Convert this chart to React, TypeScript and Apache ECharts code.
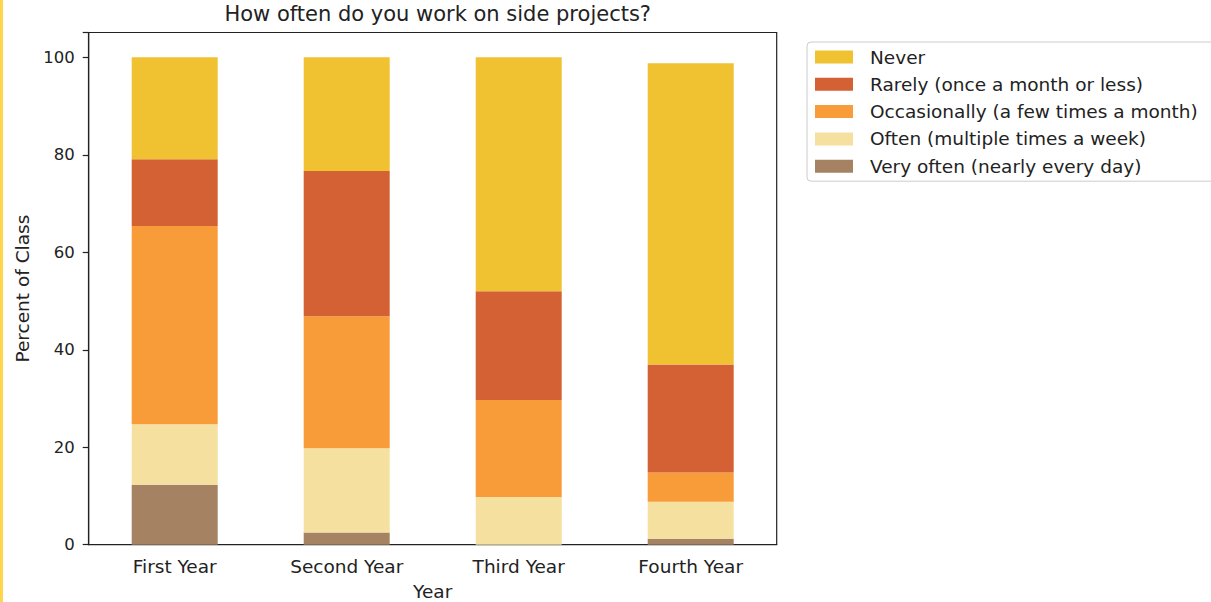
import React, { useEffect, useRef } from "react";
import * as echarts from "echarts";

const categories = ["First Year", "Second Year", "Third Year", "Fourth Year"];
const seriesNames = [
  "Never",
  "Rarely (once a month or less)",
  "Occasionally (a few times a month)",
  "Often (multiple times a week)",
  "Very often (nearly every day)",
];
const veryOften = [12.3, 2.5, 0, 1.2];
const often = [12.4, 17.3, 9.8, 7.6];
const occasionally = [40.7, 27.1, 19.9, 6.0];
const rarely = [13.7, 29.8, 22.3, 22.2];
const never = [20.9, 23.3, 48.0, 61.8];
const colors = ["#F0C232", "#D46134", "#F89C3A", "#F5E09F", "#A58362"];
const yTicks = [0, 20, 40, 60, 80, 100];

const FONT = "DejaVu Sans";

export default function App() {
  const ref = useRef<HTMLDivElement>(null);
  useEffect(() => {
    if (!ref.current) return;
    const chart = echarts.init(ref.current, undefined, { renderer: "svg" });
    const stackOrder = [
      { name: seriesNames[4], data: veryOften, color: colors[4] },
      { name: seriesNames[3], data: often, color: colors[3] },
      { name: seriesNames[2], data: occasionally, color: colors[2] },
      { name: seriesNames[1], data: rarely, color: colors[1] },
      { name: seriesNames[0], data: never, color: colors[0] },
    ];
    chart.setOption({
      animation: false,
      backgroundColor: "#ffffff",
      textStyle: { fontFamily: FONT },
      title: {
        text: "How often do you work on side projects?",
        left: 432.7,
        textAlign: "center",
        top: -2,
        textStyle: { fontFamily: FONT, fontSize: 21, fontWeight: "normal", color: "#222" },
      },
      graphic: [
        { type: "rect", left: 0, top: 0, shape: { width: 3, height: 602 }, style: { fill: "#FFD54A" } },
      ],
      legend: {
        orient: "vertical",
        left: 807,
        top: 42,
        data: seriesNames,
        itemWidth: 38,
        itemHeight: 13,
        itemGap: 7.3,
        padding: [5, 40, 5, 8],
        borderColor: "#cccccc",
        borderWidth: 1,
        borderRadius: 4,
        backgroundColor: "#ffffff",
        icon: "rect",
        textStyle: { fontFamily: FONT, fontSize: 18.5, color: "#222", lineHeight: 20, padding: [0, 0, 0, 12] },
      },
      grid: {
        left: 88.7,
        right: 434.3,
        top: 32.5,
        bottom: 57.3,
        outerBoundsMode: "none",
        containLabel: false,
        show: true,
        borderColor: "#222",
        borderWidth: 1.2,
        backgroundColor: "transparent",
      },
      xAxis: {
        type: "category",
        data: categories,
        name: "Year",
        nameLocation: "middle",
        nameGap: 37,
        nameTextStyle: { fontFamily: FONT, fontSize: 18.5, color: "#222" },
        axisLine: { lineStyle: { color: "#222", width: 1.2 } },
        axisTick: { alignWithLabel: true, length: 6, lineStyle: { color: "#222", width: 1.2 } },
        axisLabel: { fontFamily: FONT, fontSize: 18.5, color: "#222", margin: 12 },
      },
      yAxis: {
        type: "value",
        min: 0,
        max: 105.1,
        interval: 20,
        name: "Percent of Class",
        nameLocation: "middle",
        nameGap: 55,
        nameTextStyle: { fontFamily: FONT, fontSize: 18.5, color: "#222" },
        axisLine: { show: true, lineStyle: { color: "#222", width: 1.2 } },
        axisTick: { show: true, length: 6, lineStyle: { color: "#222", width: 1.2 } },
        splitLine: { show: false },
        axisLabel: {
          fontFamily: FONT,
          fontSize: 16.5,
          color: "#222",
          margin: 14,
          formatter: (v: number) => (yTicks.includes(v) ? String(v) : ""),
        },
      },
      series: stackOrder.map((s) => ({
        name: s.name,
        type: "bar",
        stack: "total",
        barWidth: "50%",
        data: s.data,
        itemStyle: { color: s.color },
      })),
    });
    return () => chart.dispose();
  }, []);
  return (
    <div
      ref={ref}
      style={{ position: "fixed", left: 0, top: 0, width: 1211, height: 602 }}
    />
  );
}
